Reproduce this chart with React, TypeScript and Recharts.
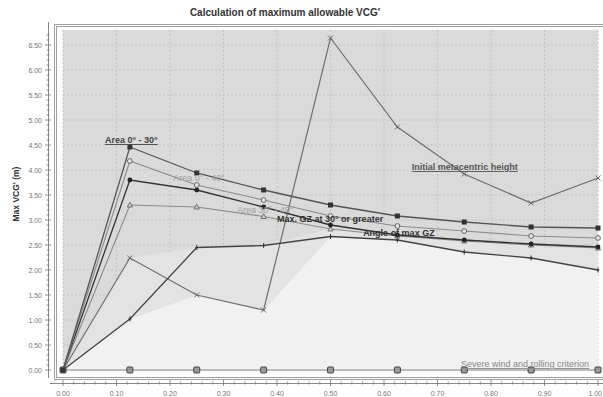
import React from 'react';
import {
  ComposedChart,
  Line,
  Area,
  XAxis,
  YAxis,
  CartesianGrid,
  ReferenceDot,
} from 'recharts';

// x = position along the ship (fraction), y = max allowable VCG' (m)
const xs = [0, 0.125, 0.25, 0.375, 0.5, 0.625, 0.75, 0.875, 1.0];
const area030 = [0, 4.46, 3.94, 3.6, 3.3, 3.08, 2.96, 2.86, 2.84];
const area040 = [0, 4.18, 3.7, 3.4, 3.08, 2.88, 2.78, 2.68, 2.64];
const maxGz30 = [0, 3.8, 3.6, 3.26, 2.9, 2.7, 2.6, 2.52, 2.46];
const area3040 = [0, 3.3, 3.26, 3.07, 2.82, 2.68, 2.58, 2.5, 2.44];
const angleMaxGz = [0, 1.02, 2.45, 2.49, 2.67, 2.6, 2.36, 2.24, 2.0];
const initialGM = [0, 2.24, 1.5, 1.2, 6.64, 4.86, 3.92, 3.34, 3.84];
const severeWind = [0, 0, 0, 0, 0, 0, 0, 0, 0];

const yMajorTicks = [0, 0.5, 1, 1.5, 2, 2.5, 3, 3.5, 4, 4.5, 5, 5.5, 6, 6.5];
const xMajorTicks = [0, 0.1, 0.2, 0.3, 0.4, 0.5, 0.6, 0.7, 0.8, 0.9, 1.0];

// minor ruler marks between the labelled ticks
const yTicks: number[] = [];
for (let i = 0; i <= 67; i++) yTicks.push(i / 10);
const xTicks: number[] = [];
for (let i = 0; i <= 50; i++) xTicks.push(i / 50);

const rows = xs.map((x, i) => {
  const sorted = [area030[i], area040[i], maxGz30[i], area3040[i], angleMaxGz[i], initialGM[i]].sort(
    (a, b) => a - b
  );
  return {
    x,
    area030: area030[i],
    area040: area040[i],
    maxGz30: maxGz30[i],
    area3040: area3040[i],
    angleMaxGz: angleMaxGz[i],
    initialGM: initialGM[i],
    severeWind: severeWind[i],
    lowest: sorted[0],
    band: [sorted[0], sorted[1]],
  };
});

const FONT = '"Liberation Sans", Arial, sans-serif';

const isMajor = (v: number, step: number) => Math.abs(v / step - Math.round(v / step)) < 1e-6;

const YTick = (props: any) => {
  const { y, payload } = props;
  const v = payload.value as number;
  const major = isMajor(v, 0.5);
  return (
    <g>
      <line x1={major ? 45 : 46.5} x2={major ? 51 : 49.5} y1={y} y2={y} stroke="#777" strokeWidth={0.8} />
      {major && (
        <text x={42} y={y} dy={2.5} textAnchor="end" fontSize={7} fill="#777" fontFamily={FONT}>
          {v.toFixed(2)}
        </text>
      )}
    </g>
  );
};

const XTick = (props: any) => {
  const { x, payload } = props;
  const v = payload.value as number;
  const major = isMajor(v, 0.1);
  const last = v >= 1;
  return (
    <g>
      <line x1={x} x2={x} y1={major ? 380 : 381.5} y2={major ? 386 : 384.5} stroke="#777" strokeWidth={0.8} />
      {major && (
        <text
          x={last ? 602 : x}
          y={396}
          textAnchor={last ? 'end' : 'middle'}
          fontSize={7}
          fill="#777"
          fontFamily={FONT}
        >
          {v.toFixed(2)}
        </text>
      )}
    </g>
  );
};

const makeDot = (kind: string, color: string) => (p: any) => {
  const { cx, cy, index } = p;
  if (cx == null || cy == null) return <g key={index} />;
  switch (kind) {
    case 'square':
      return <rect key={index} x={cx - 2.5} y={cy - 2.5} width={5} height={5} fill={color} />;
    case 'circle':
      return <circle key={index} cx={cx} cy={cy} r={2.4} fill="#e4e4e4" stroke={color} strokeWidth={1} />;
    case 'dot':
      return <circle key={index} cx={cx} cy={cy} r={2.4} fill={color} />;
    case 'triangle':
      return (
        <polygon
          key={index}
          points={`${cx},${cy - 2.8} ${cx - 2.6},${cy + 2} ${cx + 2.6},${cy + 2}`}
          fill="#cfcfcf"
          stroke={color}
          strokeWidth={0.9}
        />
      );
    case 'plus':
      return (
        <g key={index} stroke={color} strokeWidth={1}>
          <line x1={cx} x2={cx} y1={cy - 2.5} y2={cy + 2.5} />
          <line x1={cx - 1.5} x2={cx + 1.5} y1={cy} y2={cy} />
        </g>
      );
    case 'cross':
      return (
        <g key={index} stroke={color} strokeWidth={1}>
          <line x1={cx - 2.5} x2={cx + 2.5} y1={cy - 2.5} y2={cy + 2.5} />
          <line x1={cx - 2.5} x2={cx + 2.5} y1={cy + 2.5} y2={cy - 2.5} />
        </g>
      );
    default:
      return (
        <rect key={index} x={cx - 3} y={cy - 3} width={6} height={6} rx={1} fill="#9a9a9a" stroke="#444" strokeWidth={1} />
      );
  }
};

const annotations = [
  { text: 'Area 0° - 30°', x: 0.0785, y: 4.54, color: '#444', bold: true, underline: true },
  { text: 'Area 0° - 40°', x: 0.206, y: 3.78, color: '#a0a0a0', bold: false, underline: false },
  { text: 'Area 30° - 40°', x: 0.325, y: 3.14, color: '#a0a0a0', bold: false, underline: false },
  { text: 'Max. GZ at 30° or greater', x: 0.4, y: 2.96, color: '#333', bold: true, underline: false },
  { text: 'Angle of max GZ', x: 0.561, y: 2.68, color: '#333', bold: true, underline: false },
  { text: 'Initial metacentric height', x: 0.652, y: 4.0, color: '#555', bold: true, underline: true },
  { text: 'Severe wind and rolling criterion', x: 0.744, y: 0.06, color: '#888', bold: false, underline: true },
];

export default function App() {
  return (
    <div style={{ position: 'absolute', left: 0, top: 0, width: 603, height: 397, background: '#fff', fontFamily: FONT, overflow: 'hidden' }}>
      {/* frame around the plot */}
      <div style={{ position: 'absolute', left: 54, top: 24, width: 580, height: 350, border: '3px double #a0a0a0' }} />
      <div style={{ position: 'absolute', left: 47.5, top: 22, width: 1, height: 356, background: '#888' }} />
      <div style={{ position: 'absolute', left: 50, top: 383, width: 560, height: 1, background: '#888' }} />
      <div
        style={{ position: 'absolute', left: 0, top: 7, width: 570, textAlign: 'center', fontSize: 10, fontWeight: 'bold', color: '#333' }}
      >
        Calculation of maximum allowable VCG'
      </div>
      <div
        style={{
          position: 'absolute',
          left: -34,
          top: 189,
          width: 100,
          textAlign: 'center',
          fontSize: 8.5,
          fontWeight: 'bold',
          color: '#333',
          transform: 'rotate(-90deg)',
        }}
      >
        Max VCG' (m)
      </div>
      <div style={{ position: 'absolute', left: 0, top: 0 }}>
        <ComposedChart width={603} height={397} data={rows} margin={{ top: 30, right: 5, bottom: 0, left: 0 }}>
          <CartesianGrid
            fill="#dadada"
            stroke="#c4c4c4"
            strokeDasharray="2 2"
            horizontalValues={yMajorTicks}
            verticalValues={xMajorTicks}
          />
          <XAxis
            dataKey="x"
            type="number"
            domain={[0, 1]}
            ticks={xTicks}
            interval={0}
            tick={<XTick />}
            axisLine={false}
            tickLine={false}
            tickSize={0}
            height={27}
          />
          <YAxis
            type="number"
            domain={[0, 6.8]}
            ticks={yTicks}
            interval={0}
            tick={<YTick />}
            axisLine={false}
            tickLine={false}
            tickSize={0}
            width={63}
          />
          <Area dataKey="lowest" type="linear" fill="#f1f1f1" fillOpacity={1} stroke="none" isAnimationActive={false} />
          <Area dataKey="band" type="linear" fill="#e3e3e3" fillOpacity={1} stroke="none" isAnimationActive={false} />
          <Line dataKey="severeWind" type="linear" stroke="#888" strokeWidth={1} dot={makeDot('sqGray', '#444')} isAnimationActive={false} />
          <Line dataKey="initialGM" type="linear" stroke="#6e6e6e" strokeWidth={1.2} dot={makeDot('cross', '#666')} isAnimationActive={false} />
          <Line dataKey="angleMaxGz" type="linear" stroke="#444" strokeWidth={1.3} dot={makeDot('plus', '#333')} isAnimationActive={false} />
          <Line dataKey="area3040" type="linear" stroke="#8a8a8a" strokeWidth={1.1} dot={makeDot('triangle', '#666')} isAnimationActive={false} />
          <Line dataKey="maxGz30" type="linear" stroke="#333" strokeWidth={1.3} dot={makeDot('dot', '#222')} isAnimationActive={false} />
          <Line dataKey="area040" type="linear" stroke="#8a8a8a" strokeWidth={1.1} dot={makeDot('circle', '#666')} isAnimationActive={false} />
          <Line dataKey="area030" type="linear" stroke="#555" strokeWidth={1.3} dot={makeDot('square', '#333')} isAnimationActive={false} />
          {annotations.map((a) => (
            <ReferenceDot
              key={a.text}
              x={a.x}
              y={a.y}
              r={0}
              ifOverflow="visible"
              shape={(p: any) => (
                <text
                  x={p.cx}
                  y={p.cy}
                  fontSize={9}
                  fontFamily={FONT}
                  fontWeight={a.bold ? 'bold' : 'normal'}
                  fill={a.color}
                  textDecoration={a.underline ? 'underline' : undefined}
                >
                  {a.text}
                </text>
              )}
            />
          ))}
        </ComposedChart>
      </div>
    </div>
  );
}
